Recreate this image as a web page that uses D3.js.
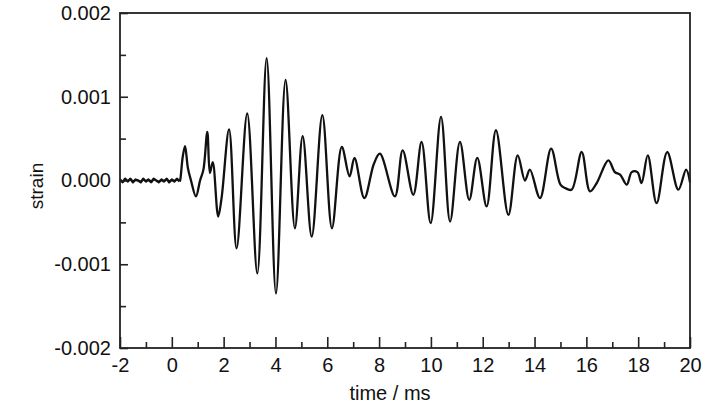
<!DOCTYPE html>
<html><head><meta charset="utf-8">
<script src="https://cdn.jsdelivr.net/npm/d3@7"></script>
<style>
html,body{margin:0;padding:0;background:#fff;}
text{font-family:"Liberation Sans",Arial,sans-serif;fill:#111;}
</style></head>
<body><svg id="c" width="728" height="407"></svg>
<script>
// ---- data ----
const xMajorTicks = [-2,0,2,4,6,8,10,12,14,16,18,20];
const xMinorTicks = [-1,1,3,5,7,9,11,13,15,17,19];
const yMajorTicks = [-0.002,-0.001,0,0.001,0.002];
const yMinorTicks = [-0.0015,-0.0005,0.0005,0.0015];

// pre-trigger baseline
const baseTime  = [-2,-1.9,-1.8,-1.7,-1.6,-1.5,-1.4,-1.3,-1.2,-1.1,-1.0,-0.9,-0.8,-0.7,-0.6,-0.5,-0.4,-0.3,-0.2,-0.1,0.0,0.1,0.2,0.3];
const baseStrain= [0.00001,-0.00002,0.00002,-0.00001,0.00002,-0.00002,0.00001,0.00000,-0.00002,0.00002,-0.00001,0.00001,-0.00002,0.00002,0.00000,-0.00002,0.00001,-0.00001,0.00002,-0.00002,0.00001,-0.00001,0.00002,-0.00001];

// signal after arrival (extrema)
const sigTime = [0.3,0.32,0.42,0.51,0.62,0.74,0.93,1.09,1.22,1.37,1.47,1.58,1.79,1.92,2.21,2.50,2.91,3.30,3.66,4.02,4.39,4.75,5.05,5.40,5.81,6.18,6.56,6.86,7.05,7.43,7.80,8.03,8.61,8.91,9.32,9.64,9.99,10.39,10.74,11.12,11.48,11.79,12.15,12.51,12.99,13.35,13.63,13.82,14.21,14.64,15.00,15.18,15.43,15.82,16.14,16.40,16.85,17.10,17.30,17.56,17.75,17.97,18.13,18.37,18.71,19.12,19.55,19.85,20.0];
const sigStrain = [-0.00001,0.00000,0.00028,0.00041,0.00015,0.00000,-0.00019,0.00000,0.00013,0.00058,0.00009,0.00022,-0.00043,-0.00021,0.00061,-0.00081,0.00080,-0.00111,0.00146,-0.00135,0.00120,-0.00057,0.00053,-0.00067,0.00078,-0.00057,0.00040,0.00005,0.00027,-0.00021,0.00020,0.00032,-0.00019,0.00036,-0.00017,0.00046,-0.00051,0.00076,-0.00049,0.00046,-0.00023,0.00027,-0.00031,0.00060,-0.00041,0.00030,0.00000,0.00013,-0.00021,0.00038,-0.00005,-0.00009,-0.00011,0.00034,-0.00013,-0.00003,0.00024,0.00010,0.00007,-0.00005,0.00010,0.00010,-0.00003,0.00030,-0.00027,0.00034,-0.00011,0.00013,-0.00002];

// ---- layout ----
const L=120,R=690,T=13,B=348;
const svg = d3.select("#c");
const x = d3.scaleLinear().domain([-2,20]).range([L,R]);
const y = d3.scaleLinear().domain([-0.002,0.002]).range([B,T]);

const base = baseTime.map((t,i)=>[t,baseStrain[i]]);
const sig = sigTime.map((t,i)=>[t,sigStrain[i]]);

const baseLine = d3.line().x(d=>x(d[0])).y(d=>y(d[1])).curve(d3.curveLinear);
svg.append("path").datum(base).attr("d",baseLine)
  .attr("fill","none").attr("stroke","#111").attr("stroke-width",2.6).attr("stroke-linejoin","round");

const line = d3.line().x(d=>x(d[0])).y(d=>y(d[1])).curve(d3.curveCatmullRom.alpha(0.5));
svg.append("path").datum(sig).attr("d",line)
  .attr("fill","none").attr("stroke","#111").attr("stroke-width",2.3).attr("stroke-linejoin","round");

// axes
function styleAxis(g){
  g.select(".domain").remove();
  g.selectAll(".tick line").attr("stroke","#222").attr("stroke-width",1.6);
  g.selectAll(".tick text").style("font-size","20px").attr("fill","#111");
}
svg.append("g").attr("transform",`translate(0,${B})`)
  .call(d3.axisBottom(x).tickValues(xMajorTicks).tickSizeInner(-11).tickSizeOuter(0).tickPadding(10).tickFormat(d=>String(d)))
  .call(styleAxis);
svg.append("g").attr("transform",`translate(0,${B})`)
  .call(d3.axisBottom(x).tickValues(xMinorTicks).tickSizeInner(-6).tickSizeOuter(0).tickFormat(""))
  .call(styleAxis);
svg.append("g").attr("transform",`translate(${L},0)`)
  .call(d3.axisLeft(y).tickValues(yMajorTicks).tickSizeInner(-8).tickSizeOuter(0).tickPadding(9).tickFormat(d=>d.toFixed(3)))
  .call(styleAxis);
svg.append("g").attr("transform",`translate(${L},0)`)
  .call(d3.axisLeft(y).tickValues(yMinorTicks).tickSizeInner(-6).tickSizeOuter(0).tickFormat(""))
  .call(styleAxis);

// frame
svg.append("rect").attr("x",L).attr("y",T).attr("width",R-L).attr("height",B-T)
  .attr("fill","none").attr("stroke","#222").attr("stroke-width",1.8);

// labels
svg.append("text").attr("x",390).attr("y",400).attr("text-anchor","middle").style("font-size","20px").text("time / ms");
svg.append("text").attr("transform","translate(43,186) rotate(-90)").attr("text-anchor","middle").style("font-size","19px").text("strain");
</script></body></html>
